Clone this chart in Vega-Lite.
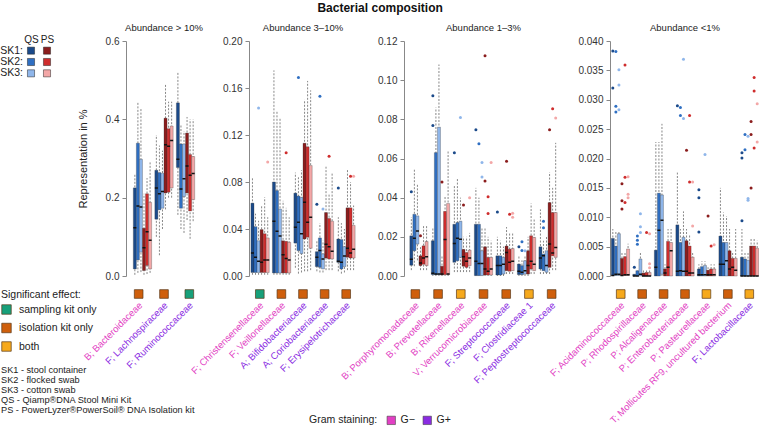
{
"$schema": "https://vega.github.io/schema/vega-lite/v6.json",
"padding": {"left": 0, "top": 1, "right": 0, "bottom": 0},
"title": {"text": "Bacterial composition", "fontSize": 12, "fontWeight": "bold", "anchor": "middle", "offset": 8, "color": "#111"},
"columns": 5,
"bounds": "flush",
"spacing": {"row": 12, "column": 47},
"config": {
  "font": "Liberation Sans",
  "view": {"stroke": null},
  "title": {"fontSize": 9.5, "fontWeight": "normal", "offset": 4, "color": "#222"},
  "axis": {"domainColor": "#888", "tickColor": "#888", "labelColor": "#333", "labelFontSize": 10, "tickSize": 4, "labelPadding": 3, "grid": false, "titleFontWeight": "normal", "titleFontSize": 11, "titleColor": "#222", "titlePadding": 17},
  "legend": {"labelColor": "#222", "titleColor": "#222", "titleFontWeight": "normal"}
},
"datasets": {
  "grid": [
    {"kit": "QS", "sk": "SK1", "g": "QS SK1"}, {"kit": "PS", "sk": "SK1", "g": "PS SK1"},
    {"kit": "QS", "sk": "SK2", "g": "QS SK2"}, {"kit": "PS", "sk": "SK2", "g": "PS SK2"},
    {"kit": "QS", "sk": "SK3", "g": "QS SK3"}, {"kit": "PS", "sk": "SK3", "g": "PS SK3"}
  ],
  "gridlab": [{"sk": "SK1", "t": "SK1:"}, {"sk": "SK2", "t": "SK2:"}, {"sk": "SK3", "t": "SK3:"}],
  "notes": [
    {"t": "SK1 - stool container"}, {"t": "SK2 - flocked swab"}, {"t": "SK3 - cotton swab"},
    {"t": "QS - Qiamp®DNA Stool Mini Kit"}, {"t": "PS - PowerLyzer®PowerSoil® DNA Isolation kit"}
  ],
  "fam": [
    {"p": 1, "f": "B; Bacteroidaceae", "gram": "G−", "sig": "isolation kit only"},
    {"p": 1, "f": "F; Lachnospiraceae", "gram": "G+", "sig": "isolation kit only"},
    {"p": 1, "f": "F; Ruminococcaceae", "gram": "G+", "sig": "sampling kit only"},
    {"p": 2, "f": "F; Christensenellaceae", "gram": "G−", "sig": "sampling kit only"},
    {"p": 2, "f": "F; Veillonellaceae", "gram": "G−", "sig": "isolation kit only"},
    {"p": 2, "f": "A; Bifidobacteriaceae", "gram": "G+", "sig": "isolation kit only"},
    {"p": 2, "f": "A; Coriobacteriaceae", "gram": "G+", "sig": "isolation kit only"},
    {"p": 2, "f": "F; Erysipelotrichaceae", "gram": "G+", "sig": "isolation kit only"},
    {"p": 3, "f": "B; Porphyromonadaceae", "gram": "G−", "sig": "isolation kit only"},
    {"p": 3, "f": "B; Prevotellaceae", "gram": "G−", "sig": "isolation kit only"},
    {"p": 3, "f": "B; Rikenellaceae", "gram": "G−", "sig": "both"},
    {"p": 3, "f": "V; Verrucomicrobiaceae", "gram": "G−", "sig": "isolation kit only"},
    {"p": 3, "f": "F; Streptococcaceae", "gram": "G+", "sig": "isolation kit only"},
    {"p": 3, "f": "F; Clostridiaceae 1", "gram": "G+", "sig": "both"},
    {"p": 3, "f": "F; Peptostreptococcaceae", "gram": "G+", "sig": "isolation kit only"},
    {"p": 4, "f": "F; Acidaminococcaceae", "gram": "G−", "sig": "both"},
    {"p": 4, "f": "P; Rhodospirillaceae", "gram": "G−", "sig": "isolation kit only"},
    {"p": 4, "f": "P; Alcaligenaceae", "gram": "G−", "sig": "isolation kit only"},
    {"p": 4, "f": "P; Enterobacteriaceae", "gram": "G−", "sig": "isolation kit only"},
    {"p": 4, "f": "P; Pasteurellaceae", "gram": "G−", "sig": "both"},
    {"p": 4, "f": "T; Mollicutes RF9, uncultured bacterium", "gram": "G−", "sig": "isolation kit only"},
    {"p": 4, "f": "F; Lactobacillaceae", "gram": "G+", "sig": "both"}
  ],
  "box": [
    {"p":1,"f":"B; Bacteroidaceae","g":"QS SK1","lo":0.003,"q1":0.018,"md":0.123,"q3":0.225,"hi":0.26},
    {"p":1,"f":"B; Bacteroidaceae","g":"QS SK2","lo":0.008,"q1":0.041,"md":0.179,"q3":0.339,"hi":0.445},
    {"p":1,"f":"B; Bacteroidaceae","g":"QS SK3","lo":0.01,"q1":0.061,"md":0.176,"q3":0.298,"hi":0.43},
    {"p":1,"f":"B; Bacteroidaceae","g":"PS SK1","lo":0.003,"q1":0.014,"md":0.072,"q3":0.122,"hi":0.21},
    {"p":1,"f":"B; Bacteroidaceae","g":"PS SK2","lo":0.005,"q1":0.027,"md":0.113,"q3":0.21,"hi":0.25},
    {"p":1,"f":"B; Bacteroidaceae","g":"PS SK3","lo":0.008,"q1":0.018,"md":0.091,"q3":0.188,"hi":0.29},
    {"p":1,"f":"F; Lachnospiraceae","g":"QS SK1","lo":0.1,"q1":0.145,"md":0.225,"q3":0.27,"hi":0.36},
    {"p":1,"f":"F; Lachnospiraceae","g":"QS SK2","lo":0.053,"q1":0.169,"md":0.21,"q3":0.264,"hi":0.333},
    {"p":1,"f":"F; Lachnospiraceae","g":"QS SK3","lo":0.12,"q1":0.173,"md":0.216,"q3":0.262,"hi":0.32},
    {"p":1,"f":"F; Lachnospiraceae","g":"PS SK1","lo":0.17,"q1":0.212,"md":0.335,"q3":0.403,"hi":0.49},
    {"p":1,"f":"F; Lachnospiraceae","g":"PS SK2","lo":0.2,"q1":0.214,"md":0.331,"q3":0.376,"hi":0.445},
    {"p":1,"f":"F; Lachnospiraceae","g":"PS SK3","lo":0.2,"q1":0.225,"md":0.346,"q3":0.383,"hi":0.445},
    {"p":1,"f":"F; Ruminococcaceae","g":"QS SK1","lo":0.156,"q1":0.277,"md":0.298,"q3":0.442,"hi":0.52},
    {"p":1,"f":"F; Ruminococcaceae","g":"QS SK2","lo":0.12,"q1":0.173,"md":0.222,"q3":0.337,"hi":0.385},
    {"p":1,"f":"F; Ruminococcaceae","g":"QS SK3","lo":0.11,"q1":0.203,"md":0.248,"q3":0.337,"hi":0.37},
    {"p":1,"f":"F; Ruminococcaceae","g":"PS SK1","lo":0.143,"q1":0.212,"md":0.281,"q3":0.365,"hi":0.406},
    {"p":1,"f":"F; Ruminococcaceae","g":"PS SK2","lo":0.095,"q1":0.166,"md":0.257,"q3":0.31,"hi":0.4},
    {"p":1,"f":"F; Ruminococcaceae","g":"PS SK3","lo":0.14,"q1":0.195,"md":0.262,"q3":0.305,"hi":0.4},

    {"p":2,"f":"F; Christensenellaceae","g":"QS SK1","lo":0.001,"q1":0.003,"md":0.0196,"q3":0.062,"hi":0.084},
    {"p":2,"f":"F; Christensenellaceae","g":"QS SK2","lo":0.001,"q1":0.003,"md":0.016,"q3":0.042,"hi":0.053},
    {"p":2,"f":"F; Christensenellaceae","g":"QS SK3","lo":0.001,"q1":0.003,"md":0.0125,"q3":0.03,"hi":0.047},
    {"p":2,"f":"F; Christensenellaceae","g":"PS SK1","lo":0.001,"q1":0.003,"md":0.0117,"q3":0.0395,"hi":0.06},
    {"p":2,"f":"F; Christensenellaceae","g":"PS SK2","lo":0.001,"q1":0.003,"md":0.0136,"q3":0.036,"hi":0.067},
    {"p":2,"f":"F; Christensenellaceae","g":"PS SK3","lo":0.001,"q1":0.003,"md":0.0136,"q3":0.0324,"hi":0.05},
    {"p":2,"f":"F; Veillonellaceae","g":"QS SK1","lo":0.001,"q1":0.0026,"md":0.0466,"q3":0.08,"hi":0.175},
    {"p":2,"f":"F; Veillonellaceae","g":"QS SK2","lo":0.001,"q1":0.0026,"md":0.038,"q3":0.0727,"hi":0.141},
    {"p":2,"f":"F; Veillonellaceae","g":"QS SK3","lo":0.001,"q1":0.0026,"md":0.034,"q3":0.057,"hi":0.135},
    {"p":2,"f":"F; Veillonellaceae","g":"PS SK1","lo":0.001,"q1":0.0026,"md":0.018,"q3":0.03,"hi":0.064},
    {"p":2,"f":"F; Veillonellaceae","g":"PS SK2","lo":0.001,"q1":0.0026,"md":0.015,"q3":0.0295,"hi":0.058},
    {"p":2,"f":"F; Veillonellaceae","g":"PS SK3","lo":0.001,"q1":0.0026,"md":0.0136,"q3":0.0287,"hi":0.05},
    {"p":2,"f":"A; Bifidobacteriaceae","g":"QS SK1","lo":0.007,"q1":0.028,"md":0.0415,"q3":0.0705,"hi":0.088},
    {"p":2,"f":"A; Bifidobacteriaceae","g":"QS SK2","lo":0.002,"q1":0.0216,"md":0.0457,"q3":0.068,"hi":0.084},
    {"p":2,"f":"A; Bifidobacteriaceae","g":"QS SK3","lo":0.003,"q1":0.019,"md":0.036,"q3":0.067,"hi":0.09},
    {"p":2,"f":"A; Bifidobacteriaceae","g":"PS SK1","lo":0.004,"q1":0.0315,"md":0.0628,"q3":0.113,"hi":0.15},
    {"p":2,"f":"A; Bifidobacteriaceae","g":"PS SK2","lo":0.004,"q1":0.033,"md":0.0457,"q3":0.11,"hi":0.166},
    {"p":2,"f":"A; Bifidobacteriaceae","g":"PS SK3","lo":0.005,"q1":0.0236,"md":0.05,"q3":0.094,"hi":0.158},
    {"p":2,"f":"A; Coriobacteriaceae","g":"QS SK1","lo":0.004,"q1":0.008,"md":0.016,"q3":0.0207,"hi":0.03},
    {"p":2,"f":"A; Coriobacteriaceae","g":"QS SK2","lo":0.003,"q1":0.0074,"md":0.0216,"q3":0.0324,"hi":0.045},
    {"p":2,"f":"A; Coriobacteriaceae","g":"QS SK3","lo":0.003,"q1":0.006,"md":0.0145,"q3":0.0188,"hi":0.03},
    {"p":2,"f":"A; Coriobacteriaceae","g":"PS SK1","lo":0.005,"q1":0.0153,"md":0.027,"q3":0.054,"hi":0.093},
    {"p":2,"f":"A; Coriobacteriaceae","g":"PS SK2","lo":0.005,"q1":0.0145,"md":0.025,"q3":0.049,"hi":0.07},
    {"p":2,"f":"A; Coriobacteriaceae","g":"PS SK3","lo":0.005,"q1":0.0145,"md":0.021,"q3":0.0466,"hi":0.088},
    {"p":2,"f":"F; Erysipelotrichaceae","g":"QS SK1","lo":0.004,"q1":0.0116,"md":0.0125,"q3":0.0315,"hi":0.05},
    {"p":2,"f":"F; Erysipelotrichaceae","g":"QS SK2","lo":0.002,"q1":0.006,"md":0.0116,"q3":0.031,"hi":0.045},
    {"p":2,"f":"F; Erysipelotrichaceae","g":"QS SK3","lo":0.003,"q1":0.008,"md":0.017,"q3":0.025,"hi":0.04},
    {"p":2,"f":"F; Erysipelotrichaceae","g":"PS SK1","lo":0.005,"q1":0.016,"md":0.0236,"q3":0.058,"hi":0.091},
    {"p":2,"f":"F; Erysipelotrichaceae","g":"PS SK2","lo":0.005,"q1":0.0153,"md":0.0196,"q3":0.058,"hi":0.08},
    {"p":2,"f":"F; Erysipelotrichaceae","g":"PS SK3","lo":0.005,"q1":0.0153,"md":0.0227,"q3":0.043,"hi":0.06},

    {"p":3,"f":"B; Porphyromonadaceae","g":"QS SK1","lo":0.003,"q1":0.0055,"md":0.0085,"q3":0.0205,"hi":0.03},
    {"p":3,"f":"B; Porphyromonadaceae","g":"QS SK2","lo":0.005,"q1":0.0129,"md":0.0193,"q3":0.0315,"hi":0.055},
    {"p":3,"f":"B; Porphyromonadaceae","g":"QS SK3","lo":0.008,"q1":0.0163,"md":0.023,"q3":0.0307,"hi":0.047},
    {"p":3,"f":"B; Porphyromonadaceae","g":"PS SK1","lo":0.003,"q1":0.0053,"md":0.0066,"q3":0.0103,"hi":0.015},
    {"p":3,"f":"B; Porphyromonadaceae","g":"PS SK2","lo":0.003,"q1":0.006,"md":0.0092,"q3":0.0154,"hi":0.026},
    {"p":3,"f":"B; Porphyromonadaceae","g":"PS SK3","lo":0.003,"q1":0.0053,"md":0.0098,"q3":0.0176,"hi":0.026},
    {"p":3,"f":"B; Prevotellaceae","g":"QS SK1","lo":0,"q1":0.0007,"md":0.0014,"q3":0.018,"hi":0.025},
    {"p":3,"f":"B; Prevotellaceae","g":"QS SK2","lo":0,"q1":0.0007,"md":0.001,"q3":0.063,"hi":0.086},
    {"p":3,"f":"B; Prevotellaceae","g":"QS SK3","lo":0,"q1":0.0007,"md":0.001,"q3":0.076,"hi":0.108},
    {"p":3,"f":"B; Prevotellaceae","g":"PS SK1","lo":0,"q1":0.0005,"md":0.001,"q3":0.005,"hi":0.01},
    {"p":3,"f":"B; Prevotellaceae","g":"PS SK2","lo":0,"q1":0.0007,"md":0.0186,"q3":0.033,"hi":0.041},
    {"p":3,"f":"B; Prevotellaceae","g":"PS SK3","lo":0,"q1":0.0007,"md":0.001,"q3":0.037,"hi":0.064},
    {"p":3,"f":"B; Rikenellaceae","g":"QS SK1","lo":0.002,"q1":0.007,"md":0.0166,"q3":0.0264,"hi":0.046},
    {"p":3,"f":"B; Rikenellaceae","g":"QS SK2","lo":0.002,"q1":0.0078,"md":0.0193,"q3":0.0273,"hi":0.05},
    {"p":3,"f":"B; Rikenellaceae","g":"QS SK3","lo":0.002,"q1":0.0095,"md":0.0188,"q3":0.028,"hi":0.04},
    {"p":3,"f":"B; Rikenellaceae","g":"PS SK1","lo":0.002,"q1":0.005,"md":0.0098,"q3":0.0136,"hi":0.02},
    {"p":3,"f":"B; Rikenellaceae","g":"PS SK2","lo":0.002,"q1":0.0044,"md":0.0075,"q3":0.012,"hi":0.02},
    {"p":3,"f":"B; Rikenellaceae","g":"PS SK3","lo":0.002,"q1":0.0053,"md":0.0092,"q3":0.0132,"hi":0.022},
    {"p":3,"f":"V; Verrucomicrobiaceae","g":"QS SK1","lo":0,"q1":0.0002,"md":0.0075,"q3":0.0264,"hi":0.045},
    {"p":3,"f":"V; Verrucomicrobiaceae","g":"QS SK2","lo":0,"q1":0.0002,"md":0.0064,"q3":0.0264,"hi":0.04},
    {"p":3,"f":"V; Verrucomicrobiaceae","g":"QS SK3","lo":0,"q1":0.0002,"md":0.0064,"q3":0.0129,"hi":0.025},
    {"p":3,"f":"V; Verrucomicrobiaceae","g":"PS SK1","lo":0,"q1":0.0005,"md":0.0036,"q3":0.0149,"hi":0.025},
    {"p":3,"f":"V; Verrucomicrobiaceae","g":"PS SK2","lo":0,"q1":0.0005,"md":0.0024,"q3":0.0095,"hi":0.02},
    {"p":3,"f":"V; Verrucomicrobiaceae","g":"PS SK3","lo":0,"q1":0.0005,"md":0.0036,"q3":0.0095,"hi":0.018},
    {"p":3,"f":"F; Streptococcaceae","g":"QS SK1","lo":0,"q1":0.0005,"md":0.0053,"q3":0.0103,"hi":0.02},
    {"p":3,"f":"F; Streptococcaceae","g":"QS SK2","lo":0,"q1":0.0005,"md":0.0053,"q3":0.0103,"hi":0.018},
    {"p":3,"f":"F; Streptococcaceae","g":"QS SK3","lo":0,"q1":0.001,"md":0.006,"q3":0.0095,"hi":0.015},
    {"p":3,"f":"F; Streptococcaceae","g":"PS SK1","lo":0.001,"q1":0.0027,"md":0.012,"q3":0.0153,"hi":0.025},
    {"p":3,"f":"F; Streptococcaceae","g":"PS SK2","lo":0.001,"q1":0.0024,"md":0.007,"q3":0.0137,"hi":0.022},
    {"p":3,"f":"F; Streptococcaceae","g":"PS SK3","lo":0.001,"q1":0.0027,"md":0.0075,"q3":0.014,"hi":0.022},
    {"p":3,"f":"F; Clostridiaceae 1","g":"QS SK1","lo":0,"q1":0.0007,"md":0.0024,"q3":0.0061,"hi":0.01},
    {"p":3,"f":"F; Clostridiaceae 1","g":"QS SK2","lo":0,"q1":0.0007,"md":0.0019,"q3":0.0053,"hi":0.008},
    {"p":3,"f":"F; Clostridiaceae 1","g":"QS SK3","lo":0,"q1":0.001,"md":0.0027,"q3":0.0078,"hi":0.01},
    {"p":3,"f":"F; Clostridiaceae 1","g":"PS SK1","lo":0,"q1":0.001,"md":0.0053,"q3":0.0129,"hi":0.02},
    {"p":3,"f":"F; Clostridiaceae 1","g":"PS SK2","lo":0.001,"q1":0.0036,"md":0.0075,"q3":0.0205,"hi":0.037},
    {"p":3,"f":"F; Clostridiaceae 1","g":"PS SK3","lo":0.001,"q1":0.0027,"md":0.006,"q3":0.0197,"hi":0.029},
    {"p":3,"f":"F; Peptostreptococcaceae","g":"QS SK1","lo":0.001,"q1":0.0036,"md":0.0092,"q3":0.0149,"hi":0.034},
    {"p":3,"f":"F; Peptostreptococcaceae","g":"QS SK2","lo":0.001,"q1":0.0027,"md":0.0103,"q3":0.0112,"hi":0.018},
    {"p":3,"f":"F; Peptostreptococcaceae","g":"QS SK3","lo":0.001,"q1":0.0019,"md":0.0053,"q3":0.0129,"hi":0.02},
    {"p":3,"f":"F; Peptostreptococcaceae","g":"PS SK1","lo":0.001,"q1":0.0044,"md":0.0163,"q3":0.0375,"hi":0.053},
    {"p":3,"f":"F; Peptostreptococcaceae","g":"PS SK2","lo":0.003,"q1":0.0103,"md":0.0117,"q3":0.0324,"hi":0.045},
    {"p":3,"f":"F; Peptostreptococcaceae","g":"PS SK3","lo":0.003,"q1":0.0095,"md":0.0146,"q3":0.0324,"hi":0.068},

    {"p":4,"f":"F; Acidaminococcaceae","g":"QS SK1","lo":0,"q1":0.0001,"md":0.0001,"q3":0.0064,"hi":0.008},
    {"p":4,"f":"F; Acidaminococcaceae","g":"QS SK2","lo":0,"q1":0.0001,"md":0.0003,"q3":0.0051,"hi":0.0075},
    {"p":4,"f":"F; Acidaminococcaceae","g":"QS SK3","lo":0,"q1":0.0001,"md":0.0003,"q3":0.0072,"hi":0.0075},
    {"p":4,"f":"F; Acidaminococcaceae","g":"PS SK1","lo":0,"q1":0.0001,"md":0.0001,"q3":0.003,"hi":0.004},
    {"p":4,"f":"F; Acidaminococcaceae","g":"PS SK2","lo":0,"q1":0.0001,"md":0.0002,"q3":0.0033,"hi":0.004},
    {"p":4,"f":"F; Acidaminococcaceae","g":"PS SK3","lo":0,"q1":0.0001,"md":0.0002,"q3":0.0046,"hi":0.0055},
    {"p":4,"f":"P; Rhodospirillaceae","g":"QS SK1","lo":0,"q1":0,"md":0,"q3":0.0003,"hi":0.0005},
    {"p":4,"f":"P; Rhodospirillaceae","g":"QS SK2","lo":0,"q1":0,"md":0,"q3":0.0009,"hi":0.0012},
    {"p":4,"f":"P; Rhodospirillaceae","g":"QS SK3","lo":0,"q1":0,"md":0.0003,"q3":0.0029,"hi":0.004},
    {"p":4,"f":"P; Rhodospirillaceae","g":"PS SK1","lo":0,"q1":0,"md":0,"q3":0.0005,"hi":0.001},
    {"p":4,"f":"P; Rhodospirillaceae","g":"PS SK2","lo":0,"q1":0,"md":0,"q3":0.0006,"hi":0.001},
    {"p":4,"f":"P; Rhodospirillaceae","g":"PS SK3","lo":0,"q1":0,"md":0,"q3":0.0006,"hi":0.001},
    {"p":4,"f":"P; Alcaligenaceae","g":"QS SK1","lo":0,"q1":0,"md":0.0015,"q3":0.0044,"hi":0.0228},
    {"p":4,"f":"P; Alcaligenaceae","g":"QS SK2","lo":0,"q1":0,"md":0.0078,"q3":0.0141,"hi":0.0228},
    {"p":4,"f":"P; Alcaligenaceae","g":"QS SK3","lo":0,"q1":0.0003,"md":0.0095,"q3":0.0138,"hi":0.0259},
    {"p":4,"f":"P; Alcaligenaceae","g":"PS SK1","lo":0,"q1":0,"md":0.0005,"q3":0.0012,"hi":0.002},
    {"p":4,"f":"P; Alcaligenaceae","g":"PS SK2","lo":0,"q1":0,"md":0.0015,"q3":0.0059,"hi":0.008},
    {"p":4,"f":"P; Alcaligenaceae","g":"PS SK3","lo":0,"q1":0,"md":0.0043,"q3":0.0057,"hi":0.008},
    {"p":4,"f":"P; Enterobacteriaceae","g":"QS SK1","lo":0,"q1":0,"md":0.0008,"q3":0.0087,"hi":0.0176},
    {"p":4,"f":"P; Enterobacteriaceae","g":"QS SK2","lo":0,"q1":0,"md":0.0009,"q3":0.0057,"hi":0.008},
    {"p":4,"f":"P; Enterobacteriaceae","g":"QS SK3","lo":0,"q1":0,"md":0.0008,"q3":0.0066,"hi":0.011},
    {"p":4,"f":"P; Enterobacteriaceae","g":"PS SK1","lo":0,"q1":0,"md":0.0008,"q3":0.006,"hi":0.008},
    {"p":4,"f":"P; Enterobacteriaceae","g":"PS SK2","lo":0,"q1":0,"md":0.0005,"q3":0.0051,"hi":0.007},
    {"p":4,"f":"P; Enterobacteriaceae","g":"PS SK3","lo":0,"q1":0,"md":0.0005,"q3":0.0032,"hi":0.004},
    {"p":4,"f":"P; Pasteurellaceae","g":"QS SK1","lo":0,"q1":0,"md":0.0002,"q3":0.0012,"hi":0.002},
    {"p":4,"f":"P; Pasteurellaceae","g":"QS SK2","lo":0,"q1":0,"md":0.0002,"q3":0.0016,"hi":0.0025},
    {"p":4,"f":"P; Pasteurellaceae","g":"QS SK3","lo":0,"q1":0,"md":0.0002,"q3":0.0018,"hi":0.0025},
    {"p":4,"f":"P; Pasteurellaceae","g":"PS SK1","lo":0,"q1":0,"md":0.0002,"q3":0.001,"hi":0.0015},
    {"p":4,"f":"P; Pasteurellaceae","g":"PS SK2","lo":0,"q1":0,"md":0.0002,"q3":0.0012,"hi":0.002},
    {"p":4,"f":"P; Pasteurellaceae","g":"PS SK3","lo":0,"q1":0,"md":0.0002,"q3":0.0012,"hi":0.002},
    {"p":4,"f":"T; Mollicutes RF9, uncultured bacterium","g":"QS SK1","lo":0,"q1":0,"md":0.002,"q3":0.0068,"hi":0.015},
    {"p":4,"f":"T; Mollicutes RF9, uncultured bacterium","g":"QS SK2","lo":0,"q1":0,"md":0.002,"q3":0.0057,"hi":0.0108},
    {"p":4,"f":"T; Mollicutes RF9, uncultured bacterium","g":"QS SK3","lo":0,"q1":0,"md":0.0026,"q3":0.0057,"hi":0.0102},
    {"p":4,"f":"T; Mollicutes RF9, uncultured bacterium","g":"PS SK1","lo":0,"q1":0,"md":0.0012,"q3":0.0043,"hi":0.008},
    {"p":4,"f":"T; Mollicutes RF9, uncultured bacterium","g":"PS SK2","lo":0,"q1":0,"md":0.0015,"q3":0.003,"hi":0.004},
    {"p":4,"f":"T; Mollicutes RF9, uncultured bacterium","g":"PS SK3","lo":0,"q1":0,"md":0.001,"q3":0.003,"hi":0.008},
    {"p":4,"f":"F; Lactobacillaceae","g":"QS SK1","lo":0,"q1":0,"md":0,"q3":0.0032,"hi":0.008},
    {"p":4,"f":"F; Lactobacillaceae","g":"QS SK2","lo":0,"q1":0,"md":0,"q3":0.0029,"hi":0.004},
    {"p":4,"f":"F; Lactobacillaceae","g":"QS SK3","lo":0,"q1":0,"md":0,"q3":0.0027,"hi":0.004},
    {"p":4,"f":"F; Lactobacillaceae","g":"PS SK1","lo":0,"q1":0,"md":0,"q3":0.0051,"hi":0.0065},
    {"p":4,"f":"F; Lactobacillaceae","g":"PS SK2","lo":0,"q1":0,"md":0,"q3":0.0051,"hi":0.0065},
    {"p":4,"f":"F; Lactobacillaceae","g":"PS SK3","lo":0,"q1":0,"md":0,"q3":0.0047,"hi":0.006}
  ],
  "out": [
    {"p":2,"f":"F; Christensenellaceae","g":"QS SK3","v":0.143},
    {"p":2,"f":"F; Christensenellaceae","g":"PS SK3","v":0.097},
    {"p":2,"f":"F; Veillonellaceae","g":"PS SK2","v":0.105},
    {"p":2,"f":"A; Bifidobacteriaceae","g":"QS SK2","v":0.169},
    {"p":2,"f":"A; Coriobacteriaceae","g":"QS SK1","v":0.061},
    {"p":2,"f":"A; Coriobacteriaceae","g":"QS SK2","v":0.153},
    {"p":2,"f":"A; Coriobacteriaceae","g":"QS SK3","v":0.057},
    {"p":2,"f":"A; Coriobacteriaceae","g":"PS SK2","v":0.102},
    {"p":2,"f":"F; Erysipelotrichaceae","g":"QS SK1","v":0.075},
    {"p":2,"f":"F; Erysipelotrichaceae","g":"PS SK2","v":0.085},
    {"p":2,"f":"F; Erysipelotrichaceae","g":"PS SK3","v":0.085},
    {"p":3,"f":"B; Porphyromonadaceae","g":"QS SK1","v":0.043},
    {"p":3,"f":"B; Porphyromonadaceae","g":"PS SK1","v":0.0205},
    {"p":3,"f":"B; Prevotellaceae","g":"QS SK1","v":0.092},
    {"p":3,"f":"B; Prevotellaceae","g":"QS SK1","v":0.0768},
    {"p":3,"f":"B; Prevotellaceae","g":"PS SK1","v":0.048},
    {"p":3,"f":"B; Rikenellaceae","g":"QS SK1","v":0.063},
    {"p":3,"f":"B; Rikenellaceae","g":"QS SK3","v":0.081},
    {"p":3,"f":"B; Rikenellaceae","g":"PS SK1","v":0.0363},
    {"p":3,"f":"B; Rikenellaceae","g":"PS SK3","v":0.04},
    {"p":3,"f":"V; Verrucomicrobiaceae","g":"QS SK1","v":0.0747},
    {"p":3,"f":"V; Verrucomicrobiaceae","g":"QS SK2","v":0.0675},
    {"p":3,"f":"V; Verrucomicrobiaceae","g":"QS SK3","v":0.058},
    {"p":3,"f":"V; Verrucomicrobiaceae","g":"QS SK3","v":0.0505},
    {"p":3,"f":"V; Verrucomicrobiaceae","g":"PS SK1","v":0.0485},
    {"p":3,"f":"V; Verrucomicrobiaceae","g":"PS SK1","v":0.1125},
    {"p":3,"f":"V; Verrucomicrobiaceae","g":"PS SK2","v":0.0405},
    {"p":3,"f":"V; Verrucomicrobiaceae","g":"PS SK2","v":0.0319},
    {"p":3,"f":"V; Verrucomicrobiaceae","g":"PS SK3","v":0.058},
    {"p":3,"f":"F; Streptococcaceae","g":"QS SK1","v":0.0327},
    {"p":3,"f":"F; Streptococcaceae","g":"PS SK1","v":0.0586},
    {"p":3,"f":"F; Streptococcaceae","g":"PS SK2","v":0.0315},
    {"p":3,"f":"F; Streptococcaceae","g":"PS SK3","v":0.032},
    {"p":3,"f":"F; Streptococcaceae","g":"PS SK3","v":0.03},
    {"p":3,"f":"F; Clostridiaceae 1","g":"QS SK1","v":0.015},
    {"p":3,"f":"F; Clostridiaceae 1","g":"QS SK2","v":0.0175},
    {"p":3,"f":"F; Clostridiaceae 1","g":"QS SK2","v":0.013},
    {"p":3,"f":"F; Clostridiaceae 1","g":"QS SK3","v":0.0129},
    {"p":3,"f":"F; Peptostreptococcaceae","g":"QS SK2","v":0.028},
    {"p":3,"f":"F; Peptostreptococcaceae","g":"QS SK2","v":0.0247},
    {"p":3,"f":"F; Peptostreptococcaceae","g":"PS SK1","v":0.0747},
    {"p":3,"f":"F; Peptostreptococcaceae","g":"PS SK2","v":0.0854},
    {"p":3,"f":"F; Peptostreptococcaceae","g":"PS SK3","v":0.0807},
    {"p":4,"f":"F; Acidaminococcaceae","g":"QS SK1","v":0.0383},
    {"p":4,"f":"F; Acidaminococcaceae","g":"QS SK1","v":0.032},
    {"p":4,"f":"F; Acidaminococcaceae","g":"QS SK2","v":0.0382},
    {"p":4,"f":"F; Acidaminococcaceae","g":"QS SK2","v":0.0289},
    {"p":4,"f":"F; Acidaminococcaceae","g":"QS SK2","v":0.0279},
    {"p":4,"f":"F; Acidaminococcaceae","g":"QS SK3","v":0.0351},
    {"p":4,"f":"F; Acidaminococcaceae","g":"QS SK3","v":0.0325},
    {"p":4,"f":"F; Acidaminococcaceae","g":"QS SK3","v":0.0283},
    {"p":4,"f":"F; Acidaminococcaceae","g":"PS SK1","v":0.0157},
    {"p":4,"f":"F; Acidaminococcaceae","g":"PS SK1","v":0.0114},
    {"p":4,"f":"F; Acidaminococcaceae","g":"PS SK1","v":0.0128},
    {"p":4,"f":"F; Acidaminococcaceae","g":"PS SK2","v":0.0359},
    {"p":4,"f":"F; Acidaminococcaceae","g":"PS SK2","v":0.0168},
    {"p":4,"f":"F; Acidaminococcaceae","g":"PS SK2","v":0.0125},
    {"p":4,"f":"F; Acidaminococcaceae","g":"PS SK3","v":0.0169},
    {"p":4,"f":"F; Acidaminococcaceae","g":"PS SK3","v":0.0139},
    {"p":4,"f":"F; Acidaminococcaceae","g":"PS SK3","v":0.0133},
    {"p":4,"f":"P; Rhodospirillaceae","g":"QS SK1","v":0.0015},
    {"p":4,"f":"P; Rhodospirillaceae","g":"QS SK2","v":0.0054},
    {"p":4,"f":"P; Rhodospirillaceae","g":"QS SK2","v":0.0061},
    {"p":4,"f":"P; Rhodospirillaceae","g":"QS SK2","v":0.0068},
    {"p":4,"f":"P; Rhodospirillaceae","g":"QS SK3","v":0.0106},
    {"p":4,"f":"P; Rhodospirillaceae","g":"QS SK3","v":0.0084},
    {"p":4,"f":"P; Rhodospirillaceae","g":"QS SK3","v":0.0074},
    {"p":4,"f":"P; Rhodospirillaceae","g":"PS SK2","v":0.0074},
    {"p":4,"f":"P; Rhodospirillaceae","g":"PS SK3","v":0.0072},
    {"p":4,"f":"P; Rhodospirillaceae","g":"PS SK3","v":0.0021},
    {"p":4,"f":"P; Rhodospirillaceae","g":"PS SK3","v":0.0014},
    {"p":4,"f":"P; Enterobacteriaceae","g":"QS SK1","v":0.029},
    {"p":4,"f":"P; Enterobacteriaceae","g":"QS SK2","v":0.0287},
    {"p":4,"f":"P; Enterobacteriaceae","g":"QS SK2","v":0.0273},
    {"p":4,"f":"P; Enterobacteriaceae","g":"QS SK3","v":0.0268},
    {"p":4,"f":"P; Enterobacteriaceae","g":"QS SK3","v":0.0369},
    {"p":4,"f":"P; Enterobacteriaceae","g":"PS SK1","v":0.0214},
    {"p":4,"f":"P; Enterobacteriaceae","g":"PS SK2","v":0.0273},
    {"p":4,"f":"P; Enterobacteriaceae","g":"PS SK2","v":0.016},
    {"p":4,"f":"P; Enterobacteriaceae","g":"PS SK3","v":0.016},
    {"p":4,"f":"P; Enterobacteriaceae","g":"PS SK3","v":0.0085},
    {"p":4,"f":"P; Pasteurellaceae","g":"QS SK1","v":0.0147},
    {"p":4,"f":"P; Pasteurellaceae","g":"QS SK1","v":0.0133},
    {"p":4,"f":"P; Pasteurellaceae","g":"QS SK1","v":0.0075},
    {"p":4,"f":"P; Pasteurellaceae","g":"QS SK3","v":0.0207},
    {"p":4,"f":"P; Pasteurellaceae","g":"PS SK1","v":0.0102},
    {"p":4,"f":"P; Pasteurellaceae","g":"PS SK2","v":0.0051},
    {"p":4,"f":"P; Pasteurellaceae","g":"PS SK3","v":0.0053},
    {"p":4,"f":"F; Lactobacillaceae","g":"QS SK1","v":0.0094},
    {"p":4,"f":"F; Lactobacillaceae","g":"QS SK1","v":0.0201},
    {"p":4,"f":"F; Lactobacillaceae","g":"QS SK1","v":0.021},
    {"p":4,"f":"F; Lactobacillaceae","g":"QS SK2","v":0.0215},
    {"p":4,"f":"F; Lactobacillaceae","g":"QS SK2","v":0.0241},
    {"p":4,"f":"F; Lactobacillaceae","g":"QS SK3","v":0.0132},
    {"p":4,"f":"F; Lactobacillaceae","g":"QS SK3","v":0.0129},
    {"p":4,"f":"F; Lactobacillaceae","g":"QS SK3","v":0.0238},
    {"p":4,"f":"F; Lactobacillaceae","g":"PS SK1","v":0.015},
    {"p":4,"f":"F; Lactobacillaceae","g":"PS SK1","v":0.0263},
    {"p":4,"f":"F; Lactobacillaceae","g":"PS SK1","v":0.0241},
    {"p":4,"f":"F; Lactobacillaceae","g":"PS SK2","v":0.0338},
    {"p":4,"f":"F; Lactobacillaceae","g":"PS SK2","v":0.0315},
    {"p":4,"f":"F; Lactobacillaceae","g":"PS SK2","v":0.0218},
    {"p":4,"f":"F; Lactobacillaceae","g":"PS SK3","v":0.0293},
    {"p":4,"f":"F; Lactobacillaceae","g":"PS SK3","v":0.0228}
  ]
},
"concat": [
  {
    "width": 78, "height": 42,
    "layer": [
      {
        "data": {"name": "grid"},
        "mark": {"type": "square", "size": 50, "stroke": "#222", "strokeWidth": 0.5, "opacity": 1},
        "encoding": {
          "x": {"field": "kit", "type": "nominal", "scale": {"domain": ["lab", "QS", "PS"], "range": [6, 54], "paddingInner": 0, "paddingOuter": 0}, "axis": {"orient": "top", "labelExpr": "datum.value == 'lab' ? '' : datum.value", "ticks": false, "domain": false, "labelPadding": -3, "labelAngle": 0, "labelFontSize": 10, "labelColor": "#222", "title": null}},
          "y": {"field": "sk", "type": "nominal", "scale": {"domain": ["SK1", "SK2", "SK3"], "range": [4, 38], "paddingOuter": 0, "paddingInner": 0}, "axis": null},
          "color": {"field": "g", "type": "nominal", "scale": {"domain": ["QS SK1", "QS SK2", "QS SK3", "PS SK1", "PS SK2", "PS SK3"], "range": ["#1b4a8a", "#2f6fc2", "#8fb6ea", "#8b1d1d", "#cf2d2d", "#f3a7a7"]}, "legend": null}
        }
      },
      {
        "data": {"name": "gridlab"},
        "mark": {"type": "text", "align": "right", "baseline": "middle", "dx": 8, "fontSize": 10.5, "color": "#222"},
        "encoding": {
          "x": {"datum": "lab", "type": "nominal", "axis": {"orient": "top", "labelExpr": "datum.value == 'lab' ? '' : datum.value", "ticks": false, "domain": false, "labelPadding": -3, "labelAngle": 0, "labelFontSize": 10, "labelColor": "#222", "title": null}},
          "y": {"field": "sk", "type": "nominal", "axis": null},
          "text": {"field": "t"}
        }
      }
    ]
  },
  {
    "width": 76, "height": 235,
    "title": "Abundance > 10%",
    "encoding": {
      "x": {"field": "f", "type": "nominal", "axis": null, "scale": {"domain": ["B; Bacteroidaceae", "F; Lachnospiraceae", "F; Ruminococcaceae"], "paddingInner": 0.15, "paddingOuter": 0.34}},
      "xOffset": {"field": "g", "type": "nominal", "scale": {"domain": ["QS SK1", "QS SK2", "QS SK3", "PS SK1", "PS SK2", "PS SK3"]}}
    },
    "layer": [
      {"data": {"name": "box"}, "transform": [{"filter": "datum.p == 1"}],
       "mark": {"type": "rule", "strokeDash": [2, 1.5], "color": "#555", "strokeWidth": 0.7},
       "encoding": {"y": {"field": "lo", "type": "quantitative", "scale": {"domain": [0, 0.6], "nice": false}, "axis": {"values": [0, 0.2, 0.4, 0.6], "format": ".1f", "title": "Representation in %"}}, "y2": {"field": "hi"}}},
      {"data": {"name": "box"}, "transform": [{"filter": "datum.p == 1"}],
       "mark": {"type": "bar", "stroke": "#333", "strokeWidth": 0.3},
       "encoding": {"y": {"field": "q1", "type": "quantitative", "scale": {"domain": [0, 0.6], "nice": false}, "axis": {"values": [0, 0.2, 0.4, 0.6], "format": ".1f", "title": "Representation in %"}}, "y2": {"field": "q3"},
         "color": {"field": "g", "type": "nominal", "scale": {"domain": ["QS SK1", "QS SK2", "QS SK3", "PS SK1", "PS SK2", "PS SK3"], "range": ["#1b4a8a", "#2f6fc2", "#8fb6ea", "#8b1d1d", "#cf2d2d", "#f3a7a7"]}, "legend": null}}},
      {"data": {"name": "box"}, "transform": [{"filter": "datum.p == 1"}],
       "mark": {"type": "bar", "fill": "#111", "stroke": "#111", "strokeWidth": 1.5},
       "encoding": {"y": {"field": "md", "type": "quantitative", "scale": {"domain": [0, 0.6], "nice": false}, "axis": {"values": [0, 0.2, 0.4, 0.6], "format": ".1f", "title": "Representation in %"}}, "y2": {"field": "md"}}}
    ]
  },
  {
    "width": 108, "height": 235,
    "title": "Abundance 3–10%",
    "encoding": {
      "x": {"field": "f", "type": "nominal", "axis": null, "scale": {"domain": ["F; Christensenellaceae", "F; Veillonellaceae", "A; Bifidobacteriaceae", "A; Coriobacteriaceae", "F; Erysipelotrichaceae"], "paddingInner": 0.15, "paddingOuter": 0.09}},
      "xOffset": {"field": "g", "type": "nominal", "scale": {"domain": ["QS SK1", "QS SK2", "QS SK3", "PS SK1", "PS SK2", "PS SK3"]}}
    },
    "layer": [
      {"data": {"name": "box"}, "transform": [{"filter": "datum.p == 2"}],
       "mark": {"type": "rule", "strokeDash": [2, 1.5], "color": "#555", "strokeWidth": 0.7},
       "encoding": {"y": {"field": "lo", "type": "quantitative", "scale": {"domain": [0, 0.2], "nice": false}, "axis": {"values": [0, 0.04, 0.08, 0.12, 0.16, 0.2], "format": ".2f", "title": null}}, "y2": {"field": "hi"}}},
      {"data": {"name": "box"}, "transform": [{"filter": "datum.p == 2"}],
       "mark": {"type": "bar", "stroke": "#333", "strokeWidth": 0.3},
       "encoding": {"y": {"field": "q1", "type": "quantitative", "scale": {"domain": [0, 0.2], "nice": false}, "axis": {"values": [0, 0.04, 0.08, 0.12, 0.16, 0.2], "format": ".2f", "title": null}}, "y2": {"field": "q3"},
         "color": {"field": "g", "type": "nominal", "scale": {"domain": ["QS SK1", "QS SK2", "QS SK3", "PS SK1", "PS SK2", "PS SK3"], "range": ["#1b4a8a", "#2f6fc2", "#8fb6ea", "#8b1d1d", "#cf2d2d", "#f3a7a7"]}, "legend": null}}},
      {"data": {"name": "box"}, "transform": [{"filter": "datum.p == 2"}],
       "mark": {"type": "bar", "fill": "#111", "stroke": "#111", "strokeWidth": 1.5},
       "encoding": {"y": {"field": "md", "type": "quantitative", "scale": {"domain": [0, 0.2], "nice": false}, "axis": {"values": [0, 0.04, 0.08, 0.12, 0.16, 0.2], "format": ".2f", "title": null}}, "y2": {"field": "md"}}},
      {"data": {"name": "out"}, "transform": [{"filter": "datum.p == 2"}],
       "mark": {"type": "circle", "size": 9, "opacity": 1},
       "encoding": {"y": {"field": "v", "type": "quantitative", "scale": {"domain": [0, 0.2], "nice": false}, "axis": {"values": [0, 0.04, 0.08, 0.12, 0.16, 0.2], "format": ".2f", "title": null}},
         "color": {"field": "g", "type": "nominal", "scale": {"domain": ["QS SK1", "QS SK2", "QS SK3", "PS SK1", "PS SK2", "PS SK3"], "range": ["#1b4a8a", "#2f6fc2", "#8fb6ea", "#8b1d1d", "#cf2d2d", "#f3a7a7"]}, "legend": null}}}
    ]
  },
  {
    "width": 159, "height": 235,
    "title": "Abundance 1–3%",
    "encoding": {
      "x": {"field": "f", "type": "nominal", "axis": null, "scale": {"domain": ["B; Porphyromonadaceae", "B; Prevotellaceae", "B; Rikenellaceae", "V; Verrucomicrobiaceae", "F; Streptococcaceae", "F; Clostridiaceae 1", "F; Peptostreptococcaceae"], "paddingInner": 0.15, "paddingOuter": 0.27}},
      "xOffset": {"field": "g", "type": "nominal", "scale": {"domain": ["QS SK1", "QS SK2", "QS SK3", "PS SK1", "PS SK2", "PS SK3"]}}
    },
    "layer": [
      {"data": {"name": "box"}, "transform": [{"filter": "datum.p == 3"}],
       "mark": {"type": "rule", "strokeDash": [2, 1.5], "color": "#555", "strokeWidth": 0.7},
       "encoding": {"y": {"field": "lo", "type": "quantitative", "scale": {"domain": [0, 0.12], "nice": false}, "axis": {"values": [0, 0.02, 0.04, 0.06, 0.08, 0.1, 0.12], "format": ".2f", "title": null}}, "y2": {"field": "hi"}}},
      {"data": {"name": "box"}, "transform": [{"filter": "datum.p == 3"}],
       "mark": {"type": "bar", "stroke": "#333", "strokeWidth": 0.3},
       "encoding": {"y": {"field": "q1", "type": "quantitative", "scale": {"domain": [0, 0.12], "nice": false}, "axis": {"values": [0, 0.02, 0.04, 0.06, 0.08, 0.1, 0.12], "format": ".2f", "title": null}}, "y2": {"field": "q3"},
         "color": {"field": "g", "type": "nominal", "scale": {"domain": ["QS SK1", "QS SK2", "QS SK3", "PS SK1", "PS SK2", "PS SK3"], "range": ["#1b4a8a", "#2f6fc2", "#8fb6ea", "#8b1d1d", "#cf2d2d", "#f3a7a7"]}, "legend": null}}},
      {"data": {"name": "box"}, "transform": [{"filter": "datum.p == 3"}],
       "mark": {"type": "bar", "fill": "#111", "stroke": "#111", "strokeWidth": 1.5},
       "encoding": {"y": {"field": "md", "type": "quantitative", "scale": {"domain": [0, 0.12], "nice": false}, "axis": {"values": [0, 0.02, 0.04, 0.06, 0.08, 0.1, 0.12], "format": ".2f", "title": null}}, "y2": {"field": "md"}}},
      {"data": {"name": "out"}, "transform": [{"filter": "datum.p == 3"}],
       "mark": {"type": "circle", "size": 9, "opacity": 1},
       "encoding": {"y": {"field": "v", "type": "quantitative", "scale": {"domain": [0, 0.12], "nice": false}, "axis": {"values": [0, 0.02, 0.04, 0.06, 0.08, 0.1, 0.12], "format": ".2f", "title": null}},
         "color": {"field": "g", "type": "nominal", "scale": {"domain": ["QS SK1", "QS SK2", "QS SK3", "PS SK1", "PS SK2", "PS SK3"], "range": ["#1b4a8a", "#2f6fc2", "#8fb6ea", "#8b1d1d", "#cf2d2d", "#f3a7a7"]}, "legend": null}}}
    ]
  },
  {
    "width": 150, "height": 235,
    "title": "Abundance <1%",
    "encoding": {
      "x": {"field": "f", "type": "nominal", "axis": null, "scale": {"domain": ["F; Acidaminococcaceae", "P; Rhodospirillaceae", "P; Alcaligenaceae", "P; Enterobacteriaceae", "P; Pasteurellaceae", "T; Mollicutes RF9, uncultured bacterium", "F; Lactobacillaceae"], "paddingInner": 0.15, "paddingOuter": 0.06}},
      "xOffset": {"field": "g", "type": "nominal", "scale": {"domain": ["QS SK1", "QS SK2", "QS SK3", "PS SK1", "PS SK2", "PS SK3"]}}
    },
    "layer": [
      {"data": {"name": "box"}, "transform": [{"filter": "datum.p == 4"}],
       "mark": {"type": "rule", "strokeDash": [2, 1.5], "color": "#555", "strokeWidth": 0.7},
       "encoding": {"y": {"field": "lo", "type": "quantitative", "scale": {"domain": [0, 0.04], "nice": false}, "axis": {"values": [0, 0.005, 0.01, 0.015, 0.02, 0.025, 0.03, 0.035, 0.04], "format": ".3f", "title": null}}, "y2": {"field": "hi"}}},
      {"data": {"name": "box"}, "transform": [{"filter": "datum.p == 4"}],
       "mark": {"type": "bar", "stroke": "#333", "strokeWidth": 0.3},
       "encoding": {"y": {"field": "q1", "type": "quantitative", "scale": {"domain": [0, 0.04], "nice": false}, "axis": {"values": [0, 0.005, 0.01, 0.015, 0.02, 0.025, 0.03, 0.035, 0.04], "format": ".3f", "title": null}}, "y2": {"field": "q3"},
         "color": {"field": "g", "type": "nominal", "scale": {"domain": ["QS SK1", "QS SK2", "QS SK3", "PS SK1", "PS SK2", "PS SK3"], "range": ["#1b4a8a", "#2f6fc2", "#8fb6ea", "#8b1d1d", "#cf2d2d", "#f3a7a7"]}, "legend": null}}},
      {"data": {"name": "box"}, "transform": [{"filter": "datum.p == 4"}],
       "mark": {"type": "bar", "fill": "#111", "stroke": "#111", "strokeWidth": 1.5},
       "encoding": {"y": {"field": "md", "type": "quantitative", "scale": {"domain": [0, 0.04], "nice": false}, "axis": {"values": [0, 0.005, 0.01, 0.015, 0.02, 0.025, 0.03, 0.035, 0.04], "format": ".3f", "title": null}}, "y2": {"field": "md"}}},
      {"data": {"name": "out"}, "transform": [{"filter": "datum.p == 4"}],
       "mark": {"type": "circle", "size": 9, "opacity": 1},
       "encoding": {"y": {"field": "v", "type": "quantitative", "scale": {"domain": [0, 0.04], "nice": false}, "axis": {"values": [0, 0.005, 0.01, 0.015, 0.02, 0.025, 0.03, 0.035, 0.04], "format": ".3f", "title": null}},
         "color": {"field": "g", "type": "nominal", "scale": {"domain": ["QS SK1", "QS SK2", "QS SK3", "PS SK1", "PS SK2", "PS SK3"], "range": ["#1b4a8a", "#2f6fc2", "#8fb6ea", "#8b1d1d", "#cf2d2d", "#f3a7a7"]}, "legend": null}}}
    ]
  },
  {
    "width": 78, "height": 125,
    "data": {"name": "notes"},
    "mark": {"type": "text", "align": "left", "baseline": "middle", "fontSize": 9.2, "color": "#222"},
    "encoding": {
      "x": {"datum": 0, "type": "quantitative", "scale": {"domain": [0, 1]}, "axis": null},
      "y": {"field": "t", "type": "nominal", "sort": null, "scale": {"range": [77, 127], "paddingInner": 0, "paddingOuter": 0}, "axis": null},
      "text": {"field": "t"}
    }
  },
  {
    "width": 76, "height": 24,
    "data": {"name": "fam"}, "transform": [{"filter": "datum.p == 1"}],
    "encoding": {"x": {"field": "f", "type": "nominal", "axis": null, "scale": {"domain": ["B; Bacteroidaceae", "F; Lachnospiraceae", "F; Ruminococcaceae"], "paddingInner": 0.15, "paddingOuter": 0.34}}},
    "layer": [
      {"mark": {"type": "square", "size": 75, "stroke": "#5a3a1a", "strokeWidth": 0.7, "opacity": 1},
       "encoding": {"y": {"datum": "sq", "type": "nominal", "scale": {"domain": ["sq", "lab"]}, "axis": null},
         "color": {"field": "sig", "type": "nominal", "scale": {"domain": ["sampling kit only", "isolation kit only", "both"], "range": ["#17a07a", "#cf5f0c", "#f6a91c"]},
           "legend": {"title": "Significant effect:", "orient": "none", "legendX": -125, "legendY": 1.5, "symbolType": "square", "symbolSize": 90, "symbolStrokeColor": "#5a3a1a", "symbolStrokeWidth": 0.7, "labelFontSize": 10.5, "titleFontSize": 10.5, "labelOffset": 7, "rowPadding": 5.5, "titlePadding": 4}}}},
      {"mark": {"type": "text", "angle": 315, "align": "right", "baseline": "middle", "fontSize": 9.5, "dx": 3},
       "encoding": {"y": {"datum": "lab", "type": "nominal", "scale": {"domain": ["sq", "lab"]}, "axis": null},
         "text": {"field": "f"},
         "color": {"field": "gram", "type": "nominal", "scale": {"domain": ["G−", "G+"], "range": ["#e23fc4", "#8a2be2"]}, "legend": null}}}
    ],
    "resolve": {"scale": {"color": "independent"}}
  },
  {
    "width": 108, "height": 24,
    "data": {"name": "fam"}, "transform": [{"filter": "datum.p == 2"}],
    "encoding": {"x": {"field": "f", "type": "nominal", "axis": null, "scale": {"domain": ["F; Christensenellaceae", "F; Veillonellaceae", "A; Bifidobacteriaceae", "A; Coriobacteriaceae", "F; Erysipelotrichaceae"], "paddingInner": 0.15, "paddingOuter": 0.09}}},
    "layer": [
      {"mark": {"type": "square", "size": 75, "stroke": "#5a3a1a", "strokeWidth": 0.7, "opacity": 1},
       "encoding": {"y": {"datum": "sq", "type": "nominal", "scale": {"domain": ["sq", "lab"]}, "axis": null},
         "color": {"field": "sig", "type": "nominal", "scale": {"domain": ["sampling kit only", "isolation kit only", "both"], "range": ["#17a07a", "#cf5f0c", "#f6a91c"]}, "legend": null}}},
      {"mark": {"type": "text", "angle": 315, "align": "right", "baseline": "middle", "fontSize": 9.5, "dx": 3},
       "encoding": {"y": {"datum": "lab", "type": "nominal", "scale": {"domain": ["sq", "lab"]}, "axis": null},
         "text": {"field": "f"},
         "color": {"field": "gram", "type": "nominal", "scale": {"domain": ["G−", "G+"], "range": ["#e23fc4", "#8a2be2"]},
           "legend": {"title": "Gram staining:", "orient": "none", "legendX": 60, "legendY": 127, "direction": "horizontal", "titleOrient": "left", "symbolType": "square", "symbolSize": 70, "symbolStrokeColor": "#444", "symbolStrokeWidth": 0.6, "labelFontSize": 10.5, "titleFontSize": 10.5, "columnPadding": 6, "labelOffset": 4, "titlePadding": 8}}}}
    ],
    "resolve": {"scale": {"color": "independent"}}
  },
  {
    "width": 159, "height": 24,
    "data": {"name": "fam"}, "transform": [{"filter": "datum.p == 3"}],
    "encoding": {"x": {"field": "f", "type": "nominal", "axis": null, "scale": {"domain": ["B; Porphyromonadaceae", "B; Prevotellaceae", "B; Rikenellaceae", "V; Verrucomicrobiaceae", "F; Streptococcaceae", "F; Clostridiaceae 1", "F; Peptostreptococcaceae"], "paddingInner": 0.15, "paddingOuter": 0.27}}},
    "layer": [
      {"mark": {"type": "square", "size": 75, "stroke": "#5a3a1a", "strokeWidth": 0.7, "opacity": 1},
       "encoding": {"y": {"datum": "sq", "type": "nominal", "scale": {"domain": ["sq", "lab"]}, "axis": null},
         "color": {"field": "sig", "type": "nominal", "scale": {"domain": ["sampling kit only", "isolation kit only", "both"], "range": ["#17a07a", "#cf5f0c", "#f6a91c"]}, "legend": null}}},
      {"mark": {"type": "text", "angle": 315, "align": "right", "baseline": "middle", "fontSize": 9.5, "dx": 3},
       "encoding": {"y": {"datum": "lab", "type": "nominal", "scale": {"domain": ["sq", "lab"]}, "axis": null},
         "text": {"field": "f"},
         "color": {"field": "gram", "type": "nominal", "scale": {"domain": ["G−", "G+"], "range": ["#e23fc4", "#8a2be2"]}, "legend": null}}}
    ],
    "resolve": {"scale": {"color": "independent"}}
  },
  {
    "width": 150, "height": 24,
    "data": {"name": "fam"}, "transform": [{"filter": "datum.p == 4"}],
    "encoding": {"x": {"field": "f", "type": "nominal", "axis": null, "scale": {"domain": ["F; Acidaminococcaceae", "P; Rhodospirillaceae", "P; Alcaligenaceae", "P; Enterobacteriaceae", "P; Pasteurellaceae", "T; Mollicutes RF9, uncultured bacterium", "F; Lactobacillaceae"], "paddingInner": 0.15, "paddingOuter": 0.06}}},
    "layer": [
      {"mark": {"type": "square", "size": 75, "stroke": "#5a3a1a", "strokeWidth": 0.7, "opacity": 1},
       "encoding": {"y": {"datum": "sq", "type": "nominal", "scale": {"domain": ["sq", "lab"]}, "axis": null},
         "color": {"field": "sig", "type": "nominal", "scale": {"domain": ["sampling kit only", "isolation kit only", "both"], "range": ["#17a07a", "#cf5f0c", "#f6a91c"]}, "legend": null}}},
      {"mark": {"type": "text", "angle": 315, "align": "right", "baseline": "middle", "fontSize": 9.5, "dx": 3},
       "encoding": {"y": {"datum": "lab", "type": "nominal", "scale": {"domain": ["sq", "lab"]}, "axis": null},
         "text": {"field": "f"},
         "color": {"field": "gram", "type": "nominal", "scale": {"domain": ["G−", "G+"], "range": ["#e23fc4", "#8a2be2"]}, "legend": null}}}
    ],
    "resolve": {"scale": {"color": "independent"}}
  }
]
}
